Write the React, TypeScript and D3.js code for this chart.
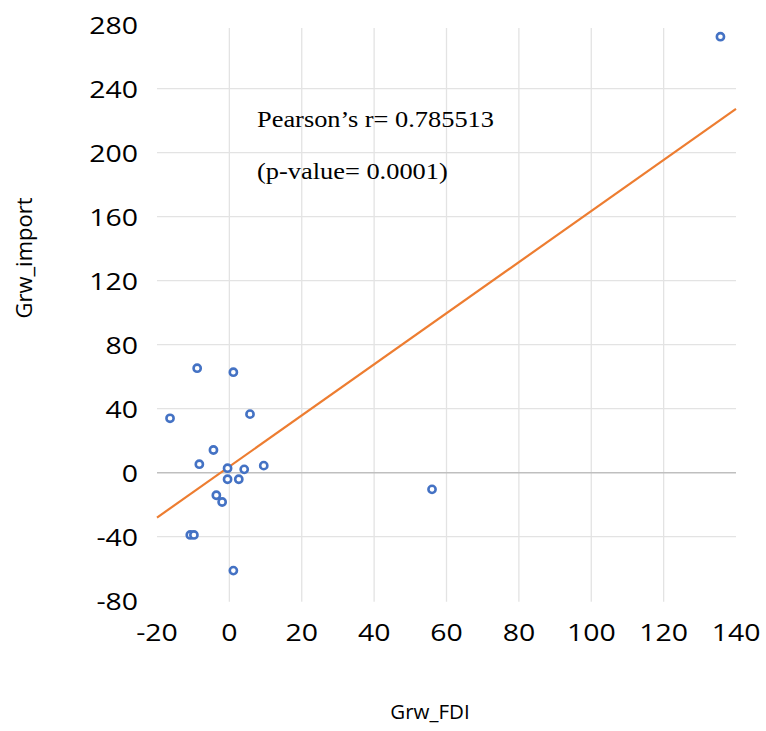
import React from "react";
import * as d3 from "d3";

const grwFDI = [-8.9, 1.1, -16.4, 5.7, -4.4, -8.3, -0.5, 4.1, 9.5, -0.5, 2.6, -3.6, -2.0, -10.8, -9.8, 1.1, 56.0, 135.7];
const grwImport = [65.3, 62.8, 34.0, 36.6, 14.2, 5.3, 2.8, 2.1, 4.4, -4.1, -4.1, -14.1, -18.3, -38.9, -38.9, -61.2, -10.4, 272.5];
const xTicks = [-20, 0, 20, 40, 60, 80, 100, 120, 140];
const yTicks = [-80, -40, 0, 40, 80, 120, 160, 200, 240, 280];
const statLines = ["Pearson\u2019s r= 0.785513", "(p-value= 0.0001)"];

const W = 766;
const H = 731;

export default function App() {
  const x = d3.scaleLinear().domain([-20, 140]).range([157, 736]);
  const y = d3.scaleLinear().domain([-80, 280]).range([600.7, 24.7]);

  const n = grwFDI.length;
  const mx = d3.mean(grwFDI) as number;
  const my = d3.mean(grwImport) as number;
  let sxy = 0, sxx = 0;
  for (let i = 0; i < n; i++) {
    sxy += (grwFDI[i] - mx) * (grwImport[i] - my);
    sxx += (grwFDI[i] - mx) ** 2;
  }
  const slope = sxy / sxx;
  const intercept = my - slope * mx;
  const trend = d3.line<number>().x((d) => x(d)).y((d) => y(intercept + slope * d));

  const tickFont = "'Open Sans', 'Noto Sans', sans-serif";
  const innerX = xTicks.filter((t) => t !== -20 && t !== 140);
  const innerY = yTicks.filter((t) => t !== -80 && t !== 280);

  return (
    <svg width={W} height={H} style={{ position: "absolute", left: 0, top: 0, background: "#fff" }}>
      <rect width={W} height={H} fill="#fff" />
      {innerY.filter((t) => t !== 0).map((t) => (
        <line key={"gy" + t} x1={x(-20)} x2={x(140)} y1={y(t)} y2={y(t)} stroke="#E3E3E3" strokeWidth={1.3} />
      ))}
      {innerX.map((t) => (
        <line key={"gx" + t} x1={x(t)} x2={x(t)} y1={y(278)} y2={y(-80) + 1} stroke="#E3E3E3" strokeWidth={1.3} />
      ))}
      <line x1={x(-20)} x2={x(140)} y1={y(0)} y2={y(0)} stroke="#BFBFBF" strokeWidth={1.5} />

      {yTicks.map((t) => (
        <g key={"ty" + t} transform={`translate(138,${y(t)}) scale(1.16,1)`}>
          <text x={0} y={0} dy="0.36em" textAnchor="end" fontFamily={tickFont} fontSize={24.5} fill="#000">
            {t}
          </text>
        </g>
      ))}
      {xTicks.map((t) => (
        <g key={"tx" + t} transform={`translate(${x(t)},632) scale(1.16,1)`}>
          <text x={0} y={0} dy="0.36em" textAnchor="middle" fontFamily={tickFont} fontSize={24.5} fill="#000">
            {t}
          </text>
        </g>
      ))}

      <path d={trend([-20, 140]) || ""} fill="none" stroke="#ED7D31" strokeWidth={2.2} />

      {grwFDI.map((v, i) => (
        <circle key={"p" + i} cx={x(v)} cy={y(grwImport[i])} r={3.6} fill="#fff" stroke="#4472C4" strokeWidth={2.6} />
      ))}

      {statLines.map((s, i) => (
        <g key={"s" + i} transform={`translate(257,${127 + i * 52}) scale(1.1,1)`}>
          <text x={0} y={0} fontFamily="'Liberation Serif', 'Times New Roman', serif" fontSize={24} fill="#000">
            {s}
          </text>
        </g>
      ))}

      <text x={430} y={719} textAnchor="middle" fontFamily={tickFont} fontSize={20.5} fill="#000">
        Grw_FDI
      </text>
      <text transform={`translate(32,258) rotate(-90)`} textAnchor="middle" fontFamily={tickFont} fontSize={22} fill="#000">
        Grw_import
      </text>
    </svg>
  );
}
